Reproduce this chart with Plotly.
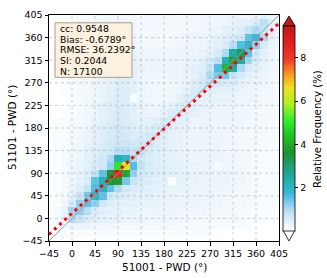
import plotly.graph_objects as go
import numpy as np

# ---------------- data ----------------
bin_centers = [-45, -30, -15, 0, 15, 30, 45, 60, 75, 90, 105, 120, 135, 150, 165, 180,
               195, 210, 225, 240, 255, 270, 285, 300, 315, 330, 345, 360, 375, 390, 405]

# relative frequency (%) rows from top (y=405) to bottom (y=-45)
freq_rows_top_down = [
    [0,0,0,0,.1,.1,.15,.2,.2,.2,.2,.2,.15,.2,.2,.2,.2,.15,.2,.2,.2,.2,.2,.25,.3,.3,.3,.35,.4,.3,.2],
    [0,0,0,.1,.15,.2,.2,.25,.25,.3,.3,.25,.2,.2,.25,.2,.2,.2,.2,.2,.25,.2,.25,.3,.35,.4,.45,.6,.9,.5,.3],
    [0,0,.1,.1,.15,.2,.25,.3,.3,.3,.3,.25,.2,.2,.2,.2,.2,.2,.2,.25,.25,.3,.3,.4,.45,.55,.8,1.0,.8,.45,.3],
    [0,0,.1,.15,.2,.2,.25,.3,.35,.35,.35,.3,.2,.2,.2,.1,.2,.2,.25,.25,.3,.3,.4,.5,.6,.7,1.5,1.8,1.0,.4,.3],
    [0,0,.1,.15,.2,.25,.3,.3,.35,.4,.4,.3,.25,.2,.2,.2,.2,.25,.25,.3,.3,.35,.45,.6,.9,1.6,2.0,1.2,.6,.35,.25],
    [0,.1,.1,.2,.2,.25,.3,.35,.4,.45,.4,.35,.3,.25,.25,.25,.25,.3,.3,.3,.35,.45,.6,1.0,2.4,3.2,1.5,.7,.45,.3,.2],
    [0,.1,.15,.2,.2,.25,.3,.35,.4,.45,.45,.4,.3,.3,.3,.3,.3,.3,.3,.35,.45,.6,.9,2.2,3.8,2.5,1.1,.6,.4,.3,.2],
    [0,.1,.1,.2,.25,.25,.3,.35,.4,.45,.45,.4,.35,.3,.3,.3,.3,.3,.35,.4,.5,.8,1.6,4.2,2.4,1.0,.6,.45,.35,.25,.2],
    [0,0,.1,.15,.2,.25,.3,.3,.4,.45,.45,.4,.3,.3,.25,.25,.3,.3,.35,.4,.6,1.0,1.3,1.4,.8,.6,.45,.35,.3,.25,.2],
    [0,0,.1,.15,.2,.2,.3,.35,.4,.5,.5,.4,.3,.25,.2,.2,.25,.3,.35,.5,.7,.8,.7,.6,.5,.4,.35,.3,.25,.2,.15],
    [0,0,.1,.1,.2,.2,.25,.35,.45,.5,.5,.4,.3,.25,.2,.2,.25,.3,.4,.6,.65,.5,.45,.4,.4,.35,.3,.25,.2,.2,.15],
    [0,0,0,.1,.15,.2,.25,.35,.45,.55,.5,.1,.3,.25,.2,.25,.3,.4,.55,.6,.45,.4,.35,.35,.35,.3,.3,.25,.2,.2,.15],
    [0,0,0,.1,.15,.2,.3,.4,.5,.55,.5,.45,.35,.3,.25,.3,.4,.55,.6,.45,.4,.35,.3,.3,.3,.3,.25,.2,.2,.2,.15],
    [0,0,.1,.1,.15,.25,.3,.4,.5,.6,.55,.45,.35,.3,.3,.4,.55,.6,.45,.4,.3,.3,.3,.3,.3,.25,.25,.2,.2,.2,.15],
    [0,.1,.1,.15,.2,.25,.35,.45,.55,.6,.55,.45,.4,.4,.45,.6,.6,.45,.4,.3,.3,.3,.3,.3,.3,.25,.2,.2,.2,.2,.15],
    [0,.1,.1,.15,.2,.3,.4,.5,.6,.65,.6,.5,.45,.5,.6,.65,.45,.4,.35,.3,.3,.3,.3,.3,.25,.25,.2,.2,.2,.15,.1],
    [0,.1,.1,.2,.25,.3,.4,.5,.6,.7,.65,.55,.55,.65,.7,.5,.4,.35,.3,.3,.3,.3,.3,.25,.25,.2,.2,.2,.15,.15,.1],
    [0,.1,.15,.2,.25,.35,.45,.55,.65,.75,.75,.7,.7,.8,.55,.45,.4,.35,.3,.3,.3,.3,.3,.25,.25,.2,.2,.2,.15,.1,.1],
    [0,.1,.15,.2,.3,.4,.5,.6,.7,.9,.9,.8,.9,.6,.5,.45,.4,.35,.3,.3,.3,.3,.3,.25,.25,.2,.2,.15,.15,.1,.1],
    [0,.1,.15,.2,.3,.4,.5,.7,1.0,2.2,2.0,1.0,.7,.55,.5,.45,.4,.35,.35,.3,.3,.3,.3,.25,.25,.2,.2,.15,.1,.1,.1],
    [0,.1,.15,.25,.35,.45,.6,.7,1.2,5.0,6.5,1.6,.8,.6,.5,.45,.4,.4,.35,.35,.3,.3,.1,.25,.25,.2,.2,.15,.1,.1,.1],
    [0,.1,.15,.25,.35,.5,.8,1.5,3.5,8.5,4.0,1.2,.7,.6,.5,.45,.45,.4,.4,.35,.35,.3,.3,.3,.25,.25,.2,.15,.1,.1,.1],
    [0,.1,.15,.25,.4,.6,1.5,2.2,3.5,3.8,1.4,.8,.6,.5,.45,.4,.1,.4,.35,.35,.3,.3,.3,.3,.25,.25,.2,.15,.1,.1,.1],
    [0,.1,.15,.3,.5,.8,1.6,2.2,1.5,1.0,.7,.6,.5,.45,.4,.4,.35,.35,.35,.3,.3,.3,.3,.25,.25,.2,.2,.15,.1,.1,.1],
    [0,.1,.2,.4,.8,1.4,2.0,1.5,.7,.6,.5,.45,.4,.4,.35,.35,.35,.3,.3,.3,.3,.3,.25,.25,.2,.2,.2,.15,.1,.1,.1],
    [0,.1,.25,.6,1.2,1.5,1.2,.7,.5,.45,.4,.4,.35,.35,.35,.3,.3,.3,.3,.3,.25,.25,.25,.2,.2,.2,.15,.15,.1,.1,.1],
    [0,.15,.35,1.1,1.2,.9,.6,.45,.4,.4,.35,.35,.3,.3,.3,.3,.3,.25,.25,.25,.25,.2,.2,.2,.2,.15,.15,.1,.1,.1,0],
    [0,.1,.3,.9,.8,.6,.45,.4,.35,.35,.3,.3,.3,.25,.25,.25,.25,.25,.2,.2,.2,.2,.2,.2,.15,.15,.1,.1,.1,0,0],
    [0,.1,.15,.3,.3,.3,.25,.2,.2,.2,.2,.2,.2,.2,.2,.2,.2,.15,.15,.15,.15,.15,.1,.1,.1,.1,.1,0,0,0,0],
    [0,0,.1,.1,.1,.1,.1,.1,.1,.1,.1,.1,.1,.1,.1,.1,.1,.1,.1,.1,.1,.1,0,0,0,0,0,0,0,0,0],
    [0,0,0,0,0,0,0,0,0,0,0,0,0,0,0,0,0,0,0,0,0,0,0,0,0,0,0,0,0,0,0],
]

axis_ticks = [-45, 0, 45, 90, 135, 180, 225, 270, 315, 360, 405]
axis_tick_labels = ["\u221245", "0", "45", "90", "135", "180", "225", "270", "315", "360", "405"]
cbar_ticks = [2, 4, 6, 8]

fit_slope = 0.935
fit_intercept = 10.1

stats_lines = ["cc: 0.9548", "Bias: -0.6789°", "RMSE: 36.2392°", "SI: 0.2044", "N: 17100"]

x_label = "51001 - PWD (°)"
y_label = "51101 - PWD (°)"
cbar_label = "Relative Frequency (%)"

# ---------------- layout helpers ----------------
W, H = 327, 278
L, R, T, B = 49, 48, 9, 37
PW, PH = W - L - R, H - T - B


def px(xpix):
    return (xpix - L) / PW


def py(ypix):
    return (H - B - ypix) / PH


FONT = "DejaVu Sans"

z = np.array(freq_rows_top_down[::-1], dtype=float)
y_centers = bin_centers  # ascending, matches reversed rows

colorscale = [
    [0.00, "#ffffff"],
    [0.04, "#e6f2fa"],
    [0.08, "#cce6f6"],
    [0.12, "#9dd3f0"],
    [0.18, "#40b8e0"],
    [0.24, "#20b0b0"],
    [0.305, "#20a080"],
    [0.38, "#209030"],
    [0.46, "#20c020"],
    [0.54, "#30f030"],
    [0.62, "#b0f020"],
    [0.70, "#f0e020"],
    [0.76, "#f5a020"],
    [0.84, "#f03828"],
    [0.92, "#e02020"],
    [1.00, "#c01818"],
]

fig = go.Figure()

fig.add_trace(go.Heatmap(
    x=bin_centers, y=y_centers, z=z,
    colorscale=colorscale, zmin=0, zmax=9.5, zsmooth=False,
    hoverinfo="skip",
    colorbar=dict(
        x=px(283), xanchor="left", xpad=0,
        y=0.5, yanchor="middle", ypad=0,
        len=210 / PH, lenmode="fraction",
        thickness=12, thicknessmode="pixels",
        outlinecolor="black", outlinewidth=0.8,
        tickvals=cbar_ticks, ticks="outside", ticklen=3.5, tickwidth=0.8,
        tickcolor="black",
        tickfont=dict(family=FONT, size=9.5, color="black"),
    ),
))

# 1:1 line
lim = [axis_ticks[0], axis_ticks[-1]]
fig.add_trace(go.Scatter(
    x=lim, y=lim, mode="lines",
    line=dict(color="#999999", width=1), hoverinfo="skip", showlegend=False))

# linear fit line
fx = np.array(lim, dtype=float)
fy = fit_slope * fx + fit_intercept
fig.add_trace(go.Scatter(
    x=fx, y=fy, mode="lines",
    line=dict(color="#ff0000", width=3, dash="3px,4px"),
    hoverinfo="skip", showlegend=False))

axis_common = dict(
    range=lim, tickvals=axis_ticks, ticktext=axis_tick_labels,
    showgrid=False, zeroline=False,
    showline=True, mirror=True, linecolor="black", linewidth=1,
    ticks="outside", ticklen=3.5, tickwidth=0.8, tickcolor="black",
    tickfont=dict(family=FONT, size=9.5, color="black"),
)
fig.update_xaxes(**axis_common)
fig.update_yaxes(**axis_common)

shapes = []
# dotted grid drawn above the heatmap
for v in axis_ticks[1:-1]:
    shapes.append(dict(type="line", xref="x", yref="paper", x0=v, x1=v, y0=0, y1=1,
                       line=dict(color="rgba(150,150,150,0.55)", width=0.8, dash="dot"),
                       layer="above"))
    shapes.append(dict(type="line", xref="paper", yref="y", x0=0, x1=1, y0=v, y1=v,
                       line=dict(color="rgba(150,150,150,0.55)", width=0.8, dash="dot"),
                       layer="above"))

# colorbar extension triangles
shapes.append(dict(type="path", xref="paper", yref="paper",
                   path=f"M {px(283)},{py(20)} L {px(295)},{py(20)} L {px(289)},{py(10)} Z",
                   fillcolor="#c01818", line=dict(color="black", width=0.8), layer="above"))
shapes.append(dict(type="path", xref="paper", yref="paper",
                   path=f"M {px(283)},{py(230)} L {px(295)},{py(230)} L {px(289)},{py(241)} Z",
                   fillcolor="#ffffff", line=dict(color="black", width=0.8), layer="above"))

# stats box
shapes.append(dict(type="rect", xref="paper", yref="paper",
                   x0=px(55), x1=px(132), y0=py(73), y1=py(17),
                   fillcolor="#fbf1de", line=dict(color="#aa9f8c", width=1), layer="above"))

annotations = []
for i, s in enumerate(stats_lines):
    annotations.append(dict(
        text=s, xref="paper", yref="paper", x=px(58), y=py(23 + 10.9 * i),
        xanchor="left", yanchor="middle", showarrow=False,
        font=dict(family=FONT, size=9.3, color="black")))

annotations.append(dict(text=x_label, xref="paper", yref="paper", x=px(164), y=py(268),
                        xanchor="center", yanchor="middle", showarrow=False,
                        font=dict(family=FONT, size=10.5, color="black")))
annotations.append(dict(text=y_label, xref="paper", yref="paper", x=px(12), y=py(125),
                        xanchor="center", yanchor="middle", showarrow=False, textangle=-90,
                        font=dict(family=FONT, size=10.5, color="black")))
annotations.append(dict(text=cbar_label, xref="paper", yref="paper", x=px(318), y=py(126),
                        xanchor="center", yanchor="middle", showarrow=False, textangle=-90,
                        font=dict(family=FONT, size=10.2, color="black")))

fig.update_layout(
    width=W, height=H, autosize=False,
    margin=dict(l=L, r=R, t=T, b=B, pad=0),
    paper_bgcolor="white", plot_bgcolor="white",
    shapes=shapes, annotations=annotations,
    showlegend=False,
    font=dict(family=FONT, color="black"),
)

fig.write_html("out.html",
               config={"displayModeBar": False},
               post_script="document.body.style.margin='0';document.body.style.padding='0';")
